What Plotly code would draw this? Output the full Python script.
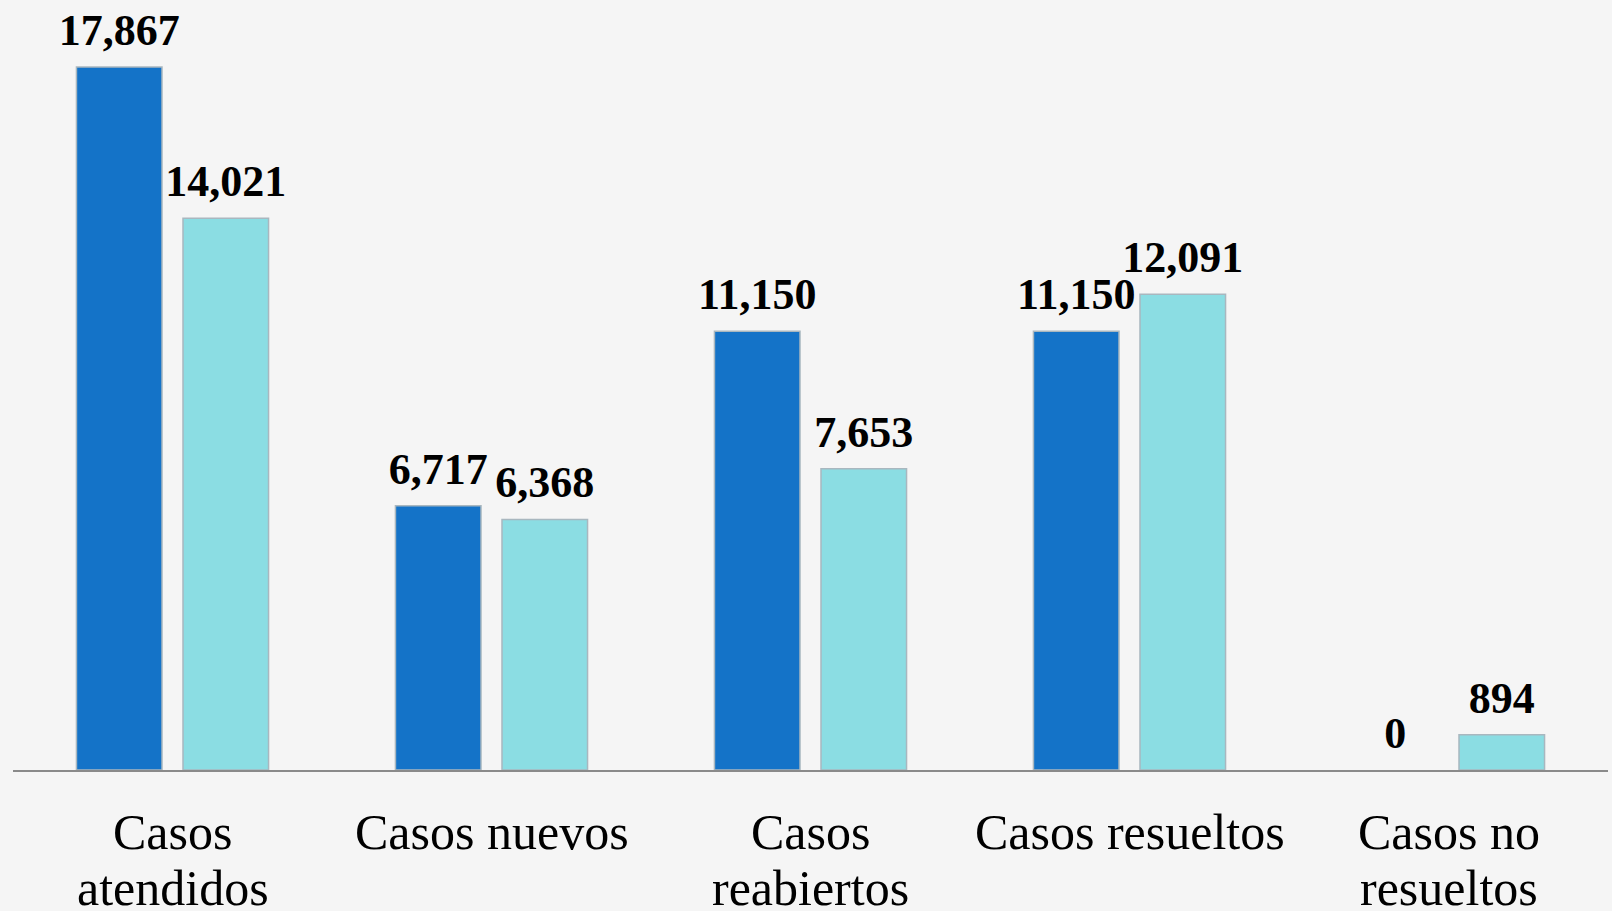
import plotly.graph_objects as go

categories = ["Casos<br>atendidos", "Casos nuevos", "Casos<br>reabiertos", "Casos resueltos", "Casos no<br>resueltos"]
series_1 = [17867, 6717, 11150, 11150, 0]
series_2 = [14021, 6368, 7653, 12091, 894]

W, H = 1612, 911
ml, mr, mt, mb = 13, 4, 0, 141
DARK = "#1473C8"
LIGHT = "#8BDDE3"
EDGE = "#A9B7BF"
BG = "#F5F5F5"

fig = go.Figure()
xs = list(range(len(categories)))
for k, (name, vals, col) in enumerate([("Serie 1", series_1, DARK), ("Serie 2", series_2, LIGHT)]):
    fig.add_trace(go.Bar(
        x=xs, y=vals, name=name, offsetgroup=str(k),
        marker=dict(color=col, line=dict(color=EDGE, width=[1.5 if v > 0 else 0 for v in vals])),
        hoverinfo="x+y",
    ))
for k, (name, vals) in enumerate([("Serie 1", series_1), ("Serie 2", series_2)]):
    fig.add_trace(go.Scatter(
        x=xs, y=vals, name=name, offsetgroup=str(k), mode="markers+text",
        text=[f"{v:,}" for v in vals], textposition="top center",
        marker=dict(size=16, opacity=0),
        textfont=dict(family="Liberation Serif", size=44, color="#000000", weight="bold"),
        cliponaxis=False, hoverinfo="skip",
    ))

# category labels, one annotation per line
for i, cat in enumerate(categories):
    lines = cat.split("<br>")
    for j, line in enumerate(lines):
        fig.add_annotation(
            x=i, xref="x", y=0, yref="paper", yanchor="middle",
            yshift=-(62 + 56 * j), text=line, showarrow=False,
            font=dict(family="Liberation Serif", size=50, color="#000000"),
        )

fig.update_layout(
    width=W, height=H,
    margin=dict(l=ml, r=mr, t=mt, b=mb),
    paper_bgcolor=BG, plot_bgcolor=BG,
    barmode="group", bargap=0.332, bargroupgap=0.197,
    scattermode="group", scattergap=0.332,
    showlegend=False,
)
fig.update_xaxes(range=[-0.5, 4.5], showticklabels=False, showgrid=False, zeroline=False,
                 showline=True, linecolor="#8A8A8A", linewidth=1.5, ticks="")
fig.update_yaxes(range=[0, 19568], visible=False, showgrid=False, zeroline=False)

fig.write_html("out.html", config={"displayModeBar": False},
               post_script="document.body.style.margin='0';document.body.style.background='%s';" % BG)
